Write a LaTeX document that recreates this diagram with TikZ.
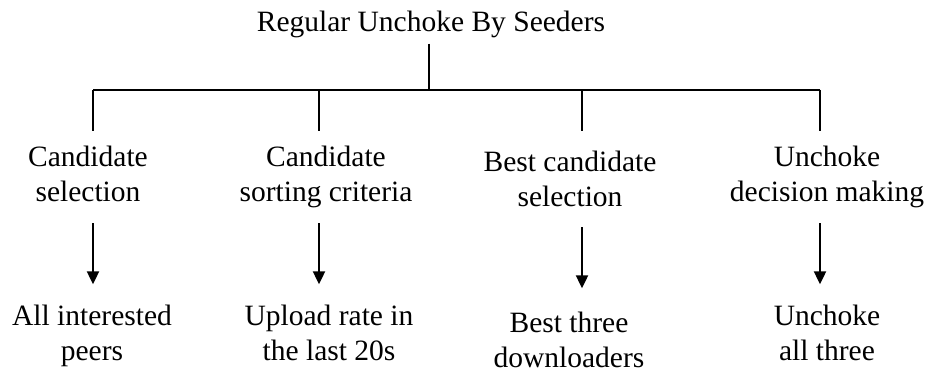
\documentclass[tikz,border=0pt]{standalone}
\usepackage{fontspec}
\setmainfont{Liberation Serif}
\usetikzlibrary{positioning,arrows.meta}
\tikzset{
  lbl/.style={align=center,inner sep=0pt,anchor=base,font=\fontsize{29.5}{35}\selectfont},
  rule/.style={line width=2pt},
  down/.style={rule,-{Triangle[width=12pt,length=13pt]}},
}
\begin{document}
\begin{tikzpicture}[x=1pt,y=1pt]
  \useasboundingbox (0,0) rectangle (933,-377);

  % top of the tree
  \node [lbl] (root) at (431,-32) {Regular Unchoke By Seeders};
  \coordinate (hub) at (429,-90);
  \coordinate (b1) at (93,-90);
  \coordinate (b2) at (319,-90);
  \coordinate (b3) at (582,-90);
  \coordinate (b4) at (820,-90);

  % second level
  \node [lbl] (c1) at (88,-201) {Candidate\\selection};
  \node [lbl] (c2) at (326,-201) {Candidate\\sorting criteria};
  \node [lbl] (c3) at (570,-206) {Best candidate\\selection};
  \node [lbl] (c4) at (827,-201) {Unchoke\\decision making};

  % outcomes
  \node [lbl] (r1) at (92,-360) {All interested\\peers};
  \node [lbl] (r2) at (329,-360) {Upload rate in\\the last 20s};
  \node [lbl] (r3) at (569,-367) {Best three\\downloaders};
  \node [lbl] (r4) at (827,-360) {Unchoke\\all three};

  \draw [rule,shorten <=5pt] (root.south -| hub) -- (hub);
  \draw [rule] (b1) -- (b4);
  \draw [rule,shorten >=14pt] (b1) -- (b1 |- c1.north);
  \draw [rule,shorten >=14pt] (b2) -- (b2 |- c2.north);
  \draw [rule,shorten >=19pt] (b3) -- (b3 |- c3.north);
  \draw [rule,shorten >=14pt] (b4) -- (b4 |- c4.north);

  \draw [down,shorten <=22pt,shorten >=20pt] (c1.south -| b1) -- (r1.north -| b1);
  \draw [down,shorten <=15.6pt,shorten >=20pt] (c2.south -| b2) -- (r2.north -| b2);
  \draw [down,shorten <=21pt,shorten >=23pt] (c3.south -| b3) -- (r3.north -| b3);
  \draw [down,shorten <=15.6pt,shorten >=20pt] (c4.south -| b4) -- (r4.north -| b4);
\end{tikzpicture}
\end{document}
